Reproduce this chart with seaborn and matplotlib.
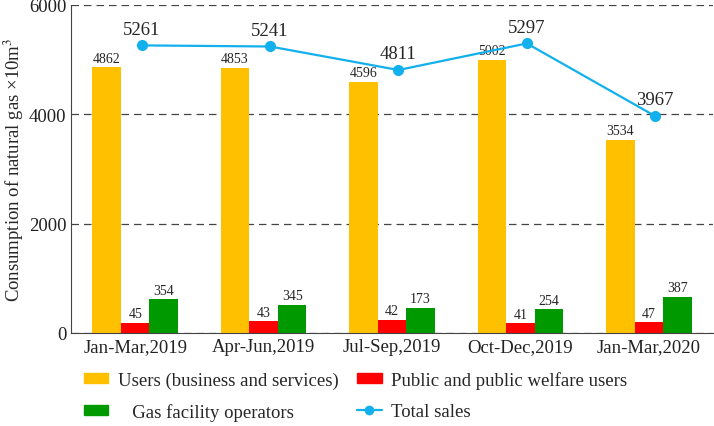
import numpy as np
import pandas as pd
import matplotlib.pyplot as plt
import seaborn as sns
from matplotlib.patches import Patch
from matplotlib.lines import Line2D

quarters = ["Jan-Mar,2019", "Apr-Jun,2019", "Jul-Sep,2019", "Oct-Dec,2019", "Jan-Mar,2020"]
users = [4862, 4853, 4596, 5002, 3534]
# bar heights as drawn in the original (not to scale with their printed labels)
public_drawn = [185, 220, 240, 180, 200]
public_labels = [45, 43, 42, 41, 47]
gas_drawn = [620, 520, 460, 430, 660]
gas_labels = [354, 345, 173, 254, 387]
total = [5261, 5241, 4811, 5297, 3967]

series = ["Users (business and services)", "Public and public welfare users", "Gas facility operators"]
colors = ["#FFC000", "#FF0000", "#009A00"]
line_color = "#12B0EC"

df = pd.DataFrame({
    "quarter": quarters * 3,
    "series": [series[0]] * 5 + [series[1]] * 5 + [series[2]] * 5,
    "value": users + public_drawn + gas_drawn,
})

sns.set_style("white")
plt.rcParams["font.family"] = ["Liberation Serif", "DejaVu Serif"]
plt.rcParams["mathtext.fontset"] = "stix"

fig = plt.figure(figsize=(7.14, 4.27), dpi=100)
ax = fig.add_axes([71 / 714, 93 / 427, 642 / 714, 328 / 427])

sns.barplot(data=df, x="quarter", y="value", hue="series", palette=colors,
            width=0.667, gap=0, saturation=1, linewidth=0, legend=False, ax=ax)

xs = np.arange(len(quarters))
sns.lineplot(x=xs + 0.05, y=total, color=line_color, marker="o", markersize=8,
             markeredgewidth=0, linewidth=1.6, ax=ax, zorder=5)

bw = 0.667 / 3
for i in range(len(quarters)):
    ax.text(i - bw, users[i] + 45, str(users[i]), ha="center", va="bottom", fontsize=10)
    ax.text(i, public_drawn[i] + 45, str(public_labels[i]), ha="center", va="bottom", fontsize=10)
    ax.text(i + bw, gas_drawn[i] + 45, str(gas_labels[i]), ha="center", va="bottom", fontsize=10)
    ax.text(i + 0.05, total[i] + 140, str(total[i]), ha="center", va="bottom", fontsize=13.5)

ax.set_xlim(-0.5, 4.5)
ax.set_ylim(0, 6000)
ax.set_yticks([0, 2000, 4000, 6000])
ax.yaxis.grid(True, linestyle=(0, (6, 4)), color="#444444", linewidth=0.9)
ax.set_axisbelow(True)
ax.tick_params(axis="both", labelsize=13.5, colors="#222222", direction="in", length=4)
ax.tick_params(axis="y", length=0)
for s in ["top", "right"]:
    ax.spines[s].set_visible(False)
for s in ["left", "bottom"]:
    ax.spines[s].set_color("#444444")
ax.set_xlabel("")
ax.set_ylabel("Consumption of natural gas ×10m$^3$", fontsize=13.5, labelpad=2)

handles = [
    Patch(color=colors[0], label=series[0]),
    Patch(color=colors[2], label="   " + series[2]),
    Patch(color=colors[1], label=series[1]),
    Line2D([0], [0], color=line_color, marker="o", markersize=7, markeredgewidth=0,
           linewidth=1.6, label="Total sales"),
]
fig.legend(handles=handles, ncol=2, loc="lower left", bbox_to_anchor=(84 / 714, 0.012),
           frameon=False, fontsize=13.5, columnspacing=1.0, handlelength=1.3,
           handleheight=0.45, handletextpad=0.5, labelspacing=0.75,
           borderpad=0, borderaxespad=0)

fig.savefig("out.png", dpi=100)
plt.close(fig)
